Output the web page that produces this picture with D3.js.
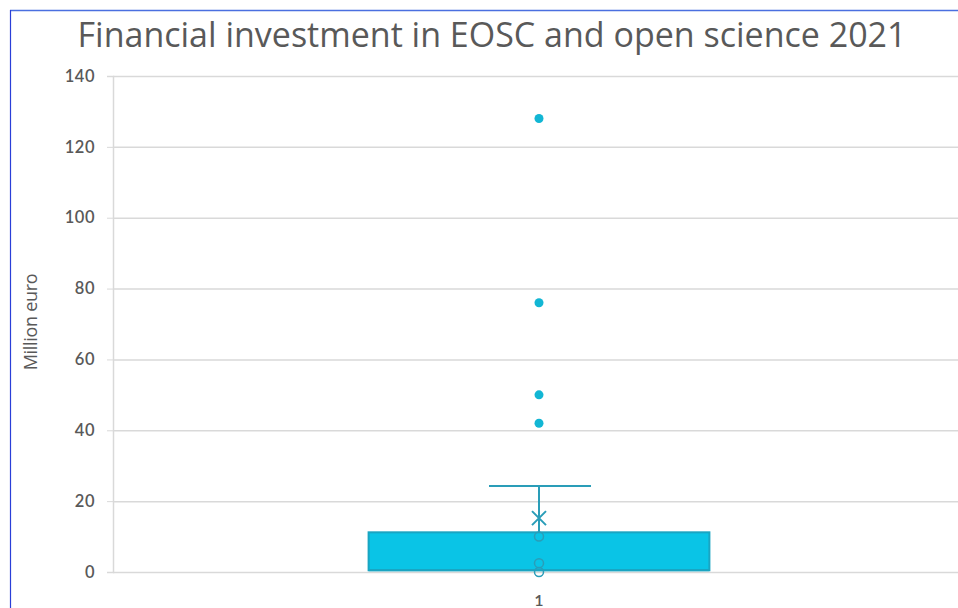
<!DOCTYPE html>
<html><head><meta charset="utf-8">
<script src="https://cdn.jsdelivr.net/npm/d3@7"></script>
<style>body{margin:0;background:#fff}svg{display:block}</style>
</head><body>
<svg id="c" width="958" height="608"></svg>
<script>
const categories = ["1"];
const q1 = [0.5];
const q3 = [11.2];
const median = [0.5];
const whiskerLow = [0];
const whiskerHigh = [24.3];
const mean = [15.2];
const innerPoints = [10, 2.5, 0];
const outliers = [128, 76, 50, 42];
const yTicks = [0, 20, 40, 60, 80, 100, 120, 140];

(function () {
const svg = d3.select("#c");
const W = 958, H = 608;
const pLeft = 113, pRight = 965, pTop = 76, pBottom = 572;
const y = d3.scaleLinear().domain([0, 140]).range([pBottom, pTop]);
const x = d3.scaleBand().domain(categories).range([pLeft, pRight]).paddingInner(0.6).paddingOuter(0.3);

svg.append("line").attr("x1", 10).attr("x2", W).attr("y1", 10.5).attr("y2", 10.5).attr("stroke", "#4a6fe0").attr("stroke-width", 1.5);
svg.append("line").attr("x1", 10.5).attr("x2", 10.5).attr("y1", 10).attr("y2", H).attr("stroke", "#2a3fd8").attr("stroke-width", 1.2);

svg.append("text").attr("x", 492).attr("y", 47).attr("text-anchor", "middle")
  .attr("font-family", "Open Sans, sans-serif").attr("font-size", 34).attr("fill", "#595959")
  .text("Financial investment in EOSC and open science 2021");

svg.append("g").selectAll("line").data(yTicks).join("line")
  .attr("x1", pLeft).attr("x2", W).attr("y1", d => y(d) + 0.5).attr("y2", d => y(d) + 0.5)
  .attr("stroke", "#d9d9d9").attr("stroke-width", 1.5);

const ya = svg.append("g").attr("transform", `translate(${pLeft},0)`)
  .call(d3.axisLeft(y).tickValues(yTicks).tickSize(6).tickPadding(12));
ya.select(".domain").attr("stroke", "#d9d9d9").attr("stroke-width", 1.5);
ya.selectAll(".tick line").attr("stroke", "#d9d9d9");
ya.selectAll("text").attr("font-family", "Lato, sans-serif").attr("font-size", 16.5).attr("fill", "#595959").attr("font-weight", 600).attr("letter-spacing", 0.5);

svg.append("text").attr("transform", "translate(37,322) rotate(-90)").attr("text-anchor", "middle")
  .attr("font-family", "Open Sans, sans-serif").attr("font-size", 18).attr("fill", "#595959").attr("letter-spacing", -0.3)
  .text("Million euro");

svg.append("g").selectAll("text").data(categories).join("text")
  .attr("x", d => x(d) + x.bandwidth() / 2).attr("y", 606).attr("text-anchor", "middle")
  .attr("font-family", "Lato, sans-serif").attr("font-size", 16).attr("font-weight", 600).attr("fill", "#595959")
  .text(d => d);

const stroke = "#2a9db8";
categories.forEach((c, i) => {
  const cx = x(c) + x.bandwidth() / 2;
  const g = svg.append("g");
  g.append("line").attr("x1", cx).attr("x2", cx).attr("y1", y(q3[i])).attr("y2", y(whiskerHigh[i])).attr("stroke", stroke).attr("stroke-width", 2);
  g.append("line").attr("x1", cx - 50).attr("x2", cx + 52).attr("y1", y(whiskerHigh[i])).attr("y2", y(whiskerHigh[i])).attr("stroke", stroke).attr("stroke-width", 2);
  g.append("rect").attr("x", x(c)).attr("width", x.bandwidth()).attr("y", y(q3[i])).attr("height", y(q1[i]) - y(q3[i]))
    .attr("fill", "#0ac4e6").attr("stroke", "#1aa5c2").attr("stroke-width", 2);
  g.append("line").attr("x1", x(c)).attr("x2", x(c) + x.bandwidth()).attr("y1", y(median[i])).attr("y2", y(median[i])).attr("stroke", "#1aa5c2").attr("stroke-width", 2);
  g.selectAll("circle.in").data(innerPoints).join("circle").attr("class", "in")
    .attr("cx", cx).attr("cy", d => y(d)).attr("r", 4.5).attr("fill", "none").attr("stroke", stroke).attr("stroke-width", 1.5);
  const my = y(mean[i]), s = 7;
  g.append("path").attr("d", `M${cx - s},${my - s}L${cx + s},${my + s}M${cx - s},${my + s}L${cx + s},${my - s}`)
    .attr("stroke", stroke).attr("stroke-width", 2).attr("fill", "none");
  g.selectAll("circle.out").data(outliers).join("circle").attr("class", "out")
    .attr("cx", cx).attr("cy", d => y(d)).attr("r", 4.5).attr("fill", "#12b6d4");
});
})();
</script>
</body></html>
